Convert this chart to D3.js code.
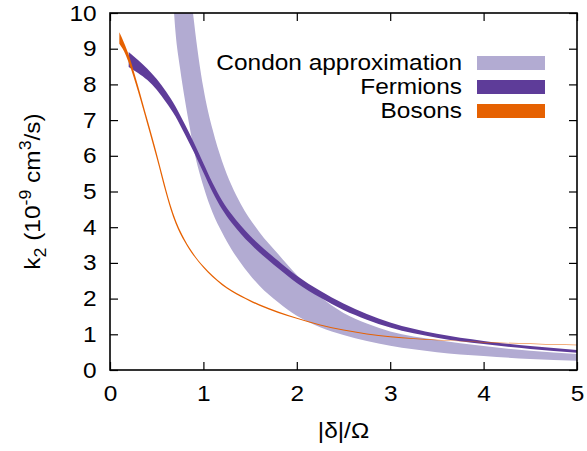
<!DOCTYPE html>
<html>
<head>
<meta charset="utf-8">
<script src="https://cdn.jsdelivr.net/npm/d3@7"></script>
<style>
  body { margin: 0; background: #fff; }
  text { font-family: "Liberation Sans", Arial, sans-serif; fill: #000; }
</style>
</head>
<body>
<div id="chart"></div>
<script>
// x axis: |delta|/Omega, y axis: k2 in 1e-9 cm^3/s

// Condon approximation band
var condonX  = [0.65, 0.7, 0.75, 0.8, 0.85, 0.9, 1.0, 1.1, 1.2, 1.3, 1.4, 1.6, 1.8, 2.0, 2.25, 2.5, 2.75, 3.0, 3.5, 4.0, 4.5, 5.0];
var condonLo = [11.6, 9.5, 8.45, 7.6, 6.85, 6.15, 5.15, 4.4, 3.85, 3.38, 3.0, 2.36, 1.9, 1.52, 1.2, 0.98, 0.81, 0.68, 0.5, 0.39, 0.31, 0.26];
var condonHi = [22, 18.5, 15.6, 13.2, 11.0, 9.75, 7.9, 6.72, 5.85, 5.18, 4.65, 3.86, 3.25, 2.66, 2.05, 1.60, 1.30, 1.08, 0.84, 0.67, 0.54, 0.45];

// Fermions band
var fermX  = [0.2, 0.3, 0.4, 0.5, 0.6, 0.7, 0.8, 0.9, 1.0, 1.1, 1.2, 1.3, 1.4, 1.5, 1.6, 1.7, 1.8, 2.0, 2.25, 2.5, 2.75, 3.0, 3.5, 4.0, 4.5, 5.0];
var fermLo = [8.49, 8.32, 8.12, 7.85, 7.50, 7.11, 6.61, 6.09, 5.53, 4.97, 4.50, 4.13, 3.82, 3.54, 3.29, 3.07, 2.85, 2.44, 2.03, 1.68, 1.41, 1.19, 0.905, 0.725, 0.59, 0.48];
var fermHi = [8.91, 8.68, 8.44, 8.15, 7.80, 7.39, 6.89, 6.36, 5.79, 5.23, 4.75, 4.37, 4.05, 3.76, 3.51, 3.28, 3.06, 2.64, 2.22, 1.86, 1.57, 1.33, 1.015, 0.815, 0.67, 0.56];

// Bosons band (very narrow)
var bosX  = [0.10, 0.15, 0.20, 0.25, 0.30, 0.35, 0.40, 0.45, 0.50, 0.55, 0.60, 0.65, 0.70, 0.75, 0.80, 0.85, 0.90, 0.95, 1.0, 1.1, 1.2, 1.3, 1.4, 1.5, 1.6, 1.8, 2.0, 2.25, 2.5, 2.75, 3.0, 3.5, 4.0, 4.5, 5.0];
var bosLo = [9.14, 8.93, 8.61, 8.23, 7.80, 7.345, 6.878, 6.408, 5.928, 5.43, 4.935, 4.492, 4.12, 3.827, 3.583, 3.368, 3.183, 3.017, 2.865, 2.595, 2.377, 2.198, 2.049, 1.92, 1.80, 1.60, 1.433, 1.244, 1.105, 0.995, 0.916, 0.83, 0.773, 0.7295, 0.695];
var bosHi = [9.46, 9.17, 8.83, 8.41, 7.96, 7.495, 7.022, 6.552, 6.072, 5.57, 5.065, 4.608, 4.22, 3.913, 3.657, 3.432, 3.237, 3.063, 2.915, 2.645, 2.423, 2.242, 2.091, 1.96, 1.84, 1.64, 1.467, 1.276, 1.135, 1.025, 0.944, 0.85, 0.787, 0.7405, 0.705];

var xTicks = [0, 1, 2, 3, 4, 5];
var yTicks = [0, 1, 2, 3, 4, 5, 6, 7, 8, 9, 10];
var legendNames = ["Condon approximation", "Fermions", "Bosons"];
var colors = ["#b2abd2", "#5e3c99", "#e66101"];

var W = 587, H = 451;
var margin = { top: 13, right: 10, bottom: 81, left: 110 },
  width = W - margin.left - margin.right,
  height = H - margin.top - margin.bottom;

// text in the original is a bit wider than Liberation Sans
var stretch = 1.11;

var svg = d3
  .select("#chart")
  .append("svg")
  .attr("width", W)
  .attr("height", H);

var g = svg.append("g")
  .attr("transform", "translate(" + margin.left + "," + margin.top + ")");

var x = d3.scaleLinear().domain([0, 5]).range([0, width]);
var y = d3.scaleLinear().domain([0, 10]).range([height, 0]);

g.append("clipPath")
  .attr("id", "clip")
  .append("rect")
  .attr("width", width)
  .attr("height", height);

var plot = g.append("g").attr("clip-path", "url(#clip)");

function band(xs, lo, hi) {
  return xs.map(function(v, i) { return { x: v, lo: lo[i], hi: hi[i] }; });
}

var area = d3.area()
  .curve(d3.curveMonotoneX)
  .x(d => x(d.x))
  .y0(d => y(d.lo))
  .y1(d => y(d.hi));

var bands = [
  band(condonX, condonLo, condonHi),
  band(fermX, fermLo, fermHi),
  band(bosX, bosLo, bosHi)
];

bands.forEach(function(b, i) {
  plot.append("path")
    .datum(b)
    .attr("d", area)
    .attr("fill", colors[i]);
});

// axes with inward ticks, mirrored on top and right
var tickLen = 8;
g.append("g")
  .attr("transform", "translate(0," + height + ")")
  .call(d3.axisBottom(x).tickValues(xTicks).tickFormat(d3.format("d"))
    .tickSizeInner(-tickLen).tickSizeOuter(0).tickPadding(15));
g.append("g")
  .call(d3.axisTop(x).tickValues(xTicks).tickSizeInner(-tickLen).tickSizeOuter(0).tickFormat(""));
g.append("g")
  .call(d3.axisLeft(y).tickValues(yTicks).tickFormat(d3.format("d"))
    .tickSizeInner(-tickLen).tickSizeOuter(0).tickPadding(12));
g.append("g")
  .attr("transform", "translate(" + width + ",0)")
  .call(d3.axisRight(y).tickValues(yTicks).tickSizeInner(-tickLen).tickSizeOuter(0).tickFormat(""));

g.selectAll(".domain").remove();
g.selectAll(".tick line").attr("stroke", "#000").attr("stroke-width", 1.2);
g.selectAll(".tick text")
  .style("font-size", "22px")
  .style("font-family", "Liberation Sans, Arial, sans-serif")
  .attr("fill", "#000")
  .attr("transform", "scale(" + stretch + ",1)");

g.append("rect")
  .attr("width", width)
  .attr("height", height)
  .attr("fill", "none")
  .attr("stroke", "#000")
  .attr("stroke-width", 1.6);

// axis titles
svg.append("text")
  .attr("transform", "translate(" + (margin.left + width / 2) + ",438) scale(" + stretch + ",1)")
  .style("text-anchor", "middle")
  .style("font-size", "22px")
  .text("|δ|/Ω");

var yt = svg.append("text")
  .attr("transform", "translate(40," + (margin.top + height / 2) + ") rotate(-90) scale(" + stretch + ",1)")
  .style("text-anchor", "middle")
  .style("font-size", "22px");
yt.append("tspan").text("k");
yt.append("tspan").attr("dy", 6).style("font-size", "16px").text("2");
yt.append("tspan").attr("dy", -6).text(" (10");
yt.append("tspan").attr("dy", -9).style("font-size", "16px").text("-9");
yt.append("tspan").attr("dy", 9).text(" cm");
yt.append("tspan").attr("dy", -9).style("font-size", "16px").text("3");
yt.append("tspan").attr("dy", 9).text("/s)");

// legend
var legend = svg.append("g");
legendNames.forEach(function(name, i) {
  var base = 70 + i * 24;
  legend.append("text")
    .attr("transform", "translate(462," + base + ") scale(" + stretch + ",1)")
    .style("text-anchor", "end")
    .style("font-size", "22px")
    .text(name);
  legend.append("rect")
    .attr("x", 477)
    .attr("y", base - 14)
    .attr("width", 68)
    .attr("height", 14)
    .attr("fill", colors[i]);
});
</script>
</body>
</html>
